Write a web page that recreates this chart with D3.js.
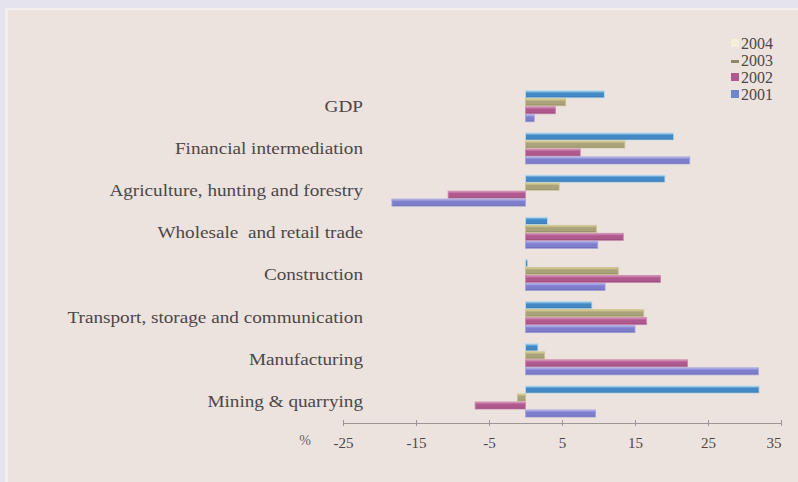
<!DOCTYPE html>
<html>
<head>
<meta charset="utf-8">
<script src="https://cdn.jsdelivr.net/npm/d3@7"></script>
<style>
  html, body { margin: 0; padding: 0; background: #e6e5ee; }
  svg { display: block; }
  svg text { font-family: "Liberation Serif", "Times New Roman", serif !important; fill: #4d4747; white-space: pre; }
</style>
</head>
<body>
<svg id="chart" width="798" height="482"></svg>
<script>
// Annual growth by sector (%)
const categories = [
  "GDP",
  "Financial intermediation",
  "Agriculture, hunting and forestry",
  "Wholesale  and retail trade",
  "Construction",
  "Transport, storage and communication",
  "Manufacturing",
  "Mining & quarrying"
];
const years = ["2004", "2003", "2002", "2001"];
const v2004 = [10.8, 20.3, 19.1, 3.0, 0.3, 9.1, 1.7, 32.0];
const v2003 = [5.5, 13.6, 4.6, 9.7, 12.7, 16.2, 2.6, -1.1];
const v2002 = [4.1, 7.5, -10.6, 13.4, 18.5, 16.6, 22.2, -6.9];
const v2001 = [1.2, 22.5, -18.3, 9.9, 10.9, 15.0, 31.9, 9.6];
const tickVals = [-25, -15, -5, 5, 15, 25, 35];

const seriesValues = { "2004": v2004, "2003": v2003, "2002": v2002, "2001": v2001 };

// bar shading: [highlight, body, shadow, edge]
const barStyle = {
  "2004": ["#9fd0ee", "#4389c6", "#35689a", "#b4dcef"],
  "2003": ["#e4da9a", "#a9a27a", "#878063", "#c9c08c"],
  "2002": ["#dc98c0", "#b0598e", "#8c3f70", "#c987ad"],
  "2001": ["#b8b8f0", "#7e7ecd", "#5f5fa6", "#a3a3dc"]
};
const legendSwatch = { "2004": "#f3efd9", "2003": "#8f8866", "2002": "#b0598e", "2001": "#6f86cc" };

const svg = d3.select("#chart");

// page background and panel
svg.append("rect").attr("width", 798).attr("height", 482).attr("fill", "#e5e4ed");
svg.append("rect").attr("x", 5).attr("y", 8).attr("width", 793).attr("height", 474)
  .attr("fill", "#f4eeee");
svg.append("rect").attr("x", 8).attr("y", 10).attr("width", 790).attr("height", 472)
  .attr("fill", "#ece3df");

const defs = svg.append("defs");
years.forEach(y => {
  const g = defs.append("linearGradient").attr("id", "g" + y)
    .attr("x1", 0).attr("y1", 0).attr("x2", 0).attr("y2", 1);
  const c = barStyle[y];
  g.append("stop").attr("offset", "0%").attr("stop-color", c[0]);
  g.append("stop").attr("offset", "35%").attr("stop-color", c[1]);
  g.append("stop").attr("offset", "75%").attr("stop-color", c[1]);
  g.append("stop").attr("offset", "100%").attr("stop-color", c[2]);
});

const x = d3.scaleLinear().domain([-25, 35]).range([343, 781]);
const y0 = d3.scaleBand().domain(categories).range([85.2, 422.6])
  .paddingInner(0.265).paddingOuter(0.1325);
const y1 = d3.scaleBand().domain(years).range([0, y0.bandwidth()]).paddingInner(0.12);

// bars
const groups = svg.append("g").selectAll("g")
  .data(categories)
  .join("g")
  .attr("transform", d => `translate(0,${y0(d)})`);

groups.selectAll("rect")
  .data((d, i) => years.map(yr => ({ year: yr, value: seriesValues[yr][i] })))
  .join("rect")
  .attr("x", d => x(Math.min(0, d.value)))
  .attr("y", d => y1(d.year))
  .attr("width", d => Math.abs(x(d.value) - x(0)))
  .attr("height", y1.bandwidth())
  .attr("fill", d => `url(#g${d.year})`)
  .attr("stroke", d => barStyle[d.year][3])
  .attr("stroke-width", 0.8);

// category labels
svg.append("g").selectAll("text")
  .data(categories)
  .join("text")
  .attr("transform", d => `translate(363,${y0(d) + y0.bandwidth() / 2}) scale(1.2,1)`)
  .attr("text-anchor", "end")
  .attr("dominant-baseline", "central")
  .attr("font-size", 16)
  .text(d => d);

// value axis
const axis = d3.axisBottom(x).tickValues(tickVals).tickSize(3).tickPadding(11)
  .tickFormat(d => String(d));
const ax = svg.append("g").attr("transform", "translate(0,423)").call(axis);
ax.attr("font-family", null).attr("font-size", null);
ax.select(".domain").attr("stroke", "#9c9696").attr("stroke-width", 1);
ax.selectAll(".tick line").attr("stroke", "#9c9696").attr("y1", -3);
ax.selectAll(".tick text")
  .attr("font-size", 15)
  .attr("fill", "#4d4747")
  .attr("text-anchor", (d, i, n) => i === n.length - 1 ? "end" : "middle");

svg.append("text").attr("x", 305).attr("y", 440)
  .attr("text-anchor", "middle").attr("dominant-baseline", "central")
  .attr("font-size", 14).style("fill", "#6a6464").text("%");

// legend
const legend = svg.append("g").selectAll("g")
  .data(years)
  .join("g")
  .attr("transform", (d, i) => `translate(731,${43 + i * 17})`);
legend.append("rect")
  .attr("x", 0).attr("y", d => d === "2003" ? 0 : -4)
  .attr("width", 8).attr("height", d => d === "2003" ? 3 : 8)
  .attr("fill", d => legendSwatch[d]);
legend.append("text")
  .attr("x", 10).attr("dominant-baseline", "central")
  .attr("font-size", 16)
  .text(d => d);
</script>
</body>
</html>
